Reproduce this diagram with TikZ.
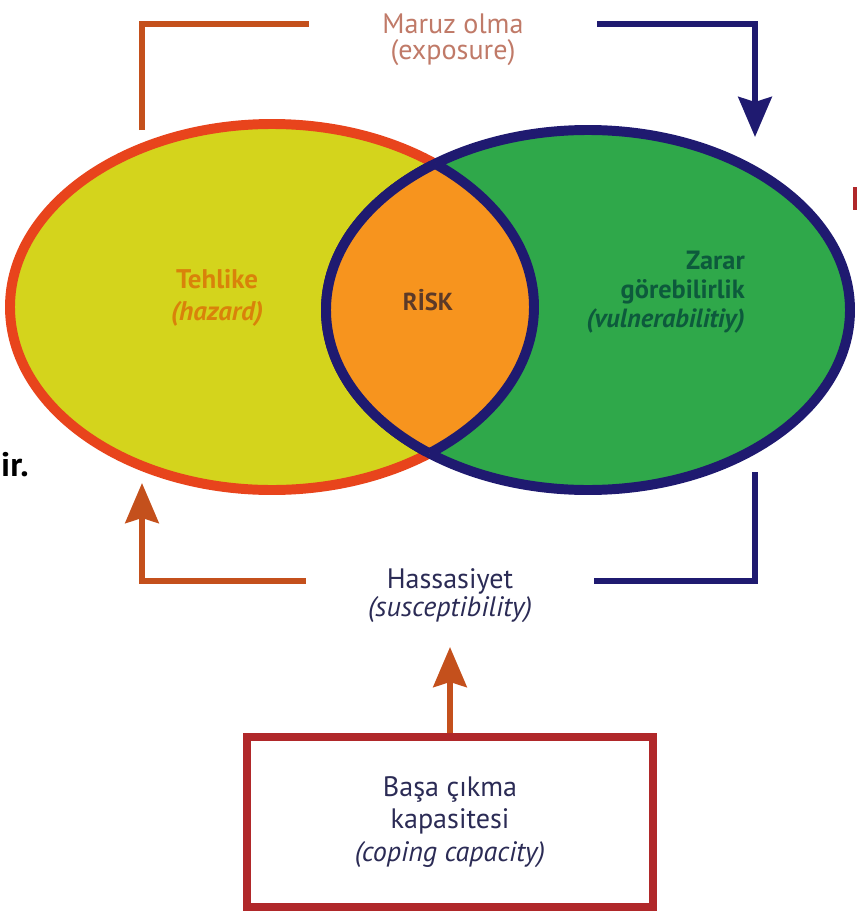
\documentclass[tikz,border=0pt]{standalone}
\usepackage{fontspec}
\setmainfont{PT Sans}
\usetikzlibrary{arrows.meta}
\definecolor{yel}{HTML}{D4D41C}
\definecolor{grn}{HTML}{2FA84A}
\definecolor{lens}{HTML}{F7941E}
\definecolor{redb}{HTML}{E8441C}
\definecolor{navy}{HTML}{1F1A70}
\definecolor{conn}{HTML}{C4501C}
\definecolor{boxred}{HTML}{B0282A}
\definecolor{tmaruz}{HTML}{C07A68}
\definecolor{thaz}{HTML}{D9820A}
\definecolor{trisk}{HTML}{5C3A28}
\definecolor{tvul}{HTML}{0D5A3C}
\definecolor{tnavy}{HTML}{2B2B55}
\tikzset{
  bigarrow/.style={-{Stealth[length=1.2cm,width=1cm,inset=0.15cm]}},
  orangeline/.style={draw=conn,line width=5pt},
  blueline/.style={draw=navy,line width=5pt},
  lbl/.style={inner sep=0pt,font=\fontsize{24}{28}\selectfont},
  gapnode/.style={lbl,minimum width=8.64cm},
}
\begin{document}
\begin{tikzpicture}[x=0.03cm,y=-0.03cm]
\useasboundingbox (0,0) rectangle (857,923);
% ellipses
\def\hazpath{(272,307) ellipse [x radius=262, y radius=183]}
\def\vulpath{(588,310) ellipse [x radius=262, y radius=180]}
\fill[yel] \hazpath;
\draw[redb,line width=8.5pt] \hazpath;
\fill[grn] \vulpath;
\draw[navy,line width=8.5pt] \vulpath;
\begin{scope}
  \clip \hazpath;
  \fill[lens] \vulpath;
  \draw[navy,line width=8.5pt] \vulpath;
\end{scope}
\begin{scope}
  \clip \vulpath;
  \draw[navy,line width=8.5pt] \hazpath;
\end{scope}
% ellipse labels
\node[lbl,text=thaz,align=center,font=\fontsize{23}{27}\selectfont\bfseries] (haz) at (217,298) {Tehlike\\\textit{(hazard)}};
\node[lbl,text=trisk,font=\fontsize{21}{24}\selectfont\bfseries] (risk) at (428,300) {RİSK};
\node[lbl,text=tvul,align=right,anchor=east,font=\fontsize{22.5}{24.5}\selectfont\bfseries] (vul) at (745,292) {Zarar\\görebilirlik\\\textit{(vulnerabilitiy)}};
% top labels
\node[gapnode,text=tmaruz] (maruz) at (453,24) {Maruz olma};
\node[lbl,text=tmaruz] (expo) at (453,53) {(exposure)};
% bottom labels
\node[gapnode,text=tnavy] (hass) at (450,581) {Hassasiyet};
\node[lbl,text=tnavy] (susc) at (450,610) {\textit{(susceptibility)}};
% box
\node[draw=boxred,line width=6.8pt,minimum width=12.2cm,minimum height=5.1cm,
      inner sep=0pt,text=tnavy,align=center,font=\fontsize{24}{27.5}\selectfont] (cope) at (450,822)
      {Başa çıkma\\kapasitesi\\\textit{(coping capacity)}};
% coordinates
\coordinate (haztop) at (142,130);
\coordinate (vultop) at (755,137);
\coordinate (hazbot) at (142,483);
\coordinate (vulbot) at (755,472);
\coordinate (susctip) at (450,647);
% connectors
\draw[orangeline] (haztop) |- (maruz.west);
\draw[blueline,bigarrow] (maruz.east) -| (vultop);
\draw[orangeline,bigarrow] (hass.west) -| (hazbot);
\draw[blueline] (hass.east) -| (vulbot);
\draw[orangeline,bigarrow] (cope.north) -- (susctip);
% fragments at the edges
\node[lbl,anchor=west,font=\fontsize{29}{34}\selectfont\bfseries] (frag) at (1,465) {ir.};
\fill[boxred] (853,187) rectangle (857,210);
\end{tikzpicture}
\end{document}
